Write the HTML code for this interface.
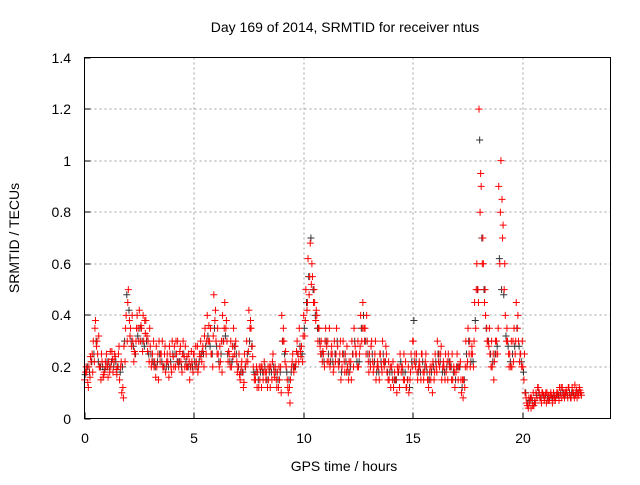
<!DOCTYPE html>
<html><head><meta charset="utf-8"><style>
body{margin:0;background:#fff;}
svg text{font-family:"Liberation Sans",sans-serif;font-size:14px;fill:#000;}
</style></head><body>
<svg id="chart" width="640" height="480" viewBox="0 0 640 480" xmlns="http://www.w3.org/2000/svg">
<text x="345" y="32" text-anchor="middle">Day 169 of 2014, SRMTID for receiver ntus</text>
<text x="344" y="471" text-anchor="middle">GPS time / hours</text>
<text x="0" y="0" text-anchor="middle" transform="translate(19,238) rotate(-90)">SRMTID / TECUs</text>
<g id="grid"></g>
<g id="ticks"></g>
<g id="marks"></g>
<rect x="84.5" y="57.5" width="526" height="361" fill="none" stroke="#000" stroke-width="1"/>
</svg>
<script>
const xTicks=[0,5,10,15,20];
const yTicks=[0,0.2,0.4,0.6,0.8,1,1.2,1.4];
const yTickLabels=["0","0.2","0.4","0.6","0.8","1","1.2","1.4"];
const startHour=0, stepHour=0.1;
const redA=[0.15,0.18,0.2,0.22,0.3,0.38,0.25,0.2,0.22,0.18,
0.25,0.22,0.2,0.18,0.24,0.2,0.15,0.1,0.28,0.4,
0.5,0.35,0.3,0.25,0.4,0.42,0.35,0.3,0.38,0.3,
0.28,0.25,0.22,0.2,0.3,0.25,0.2,0.18,0.22,0.25,
0.3,0.28,0.25,0.2,0.22,0.3,0.28,0.2,0.15,0.22,
0.25,0.22,0.2,0.3,0.28,0.35,0.4,0.3,0.25,0.48,
0.3,0.25,0.22,0.4,0.45,0.3,0.25,0.2,0.35,0.3,
0.2,0.15,0.18,0.25,0.3,0.42,0.35,0.2,0.15,0.18,
0.15,0.2,0.22,0.18,0.15,0.2,0.25,0.2,0.18,0.15,
0.4,0.3,0.2,0.1,0.15,0.25,0.2,0.3,0.35,0.28,
0.4,0.5,0.62,0.68,0.55,0.45,0.4,0.35,0.3,0.25,
0.35,0.3,0.2,0.25,0.3,0.35,0.2,0.15,0.3,0.25,
0.2,0.18,0.3,0.35,0.25,0.2,0.4,0.45,0.35,0.3,
0.25,0.3,0.2,0.15,0.2,0.25,0.3,0.22,0.18,0.15,
0.2,0.12,0.15,0.18,0.25,0.2,0.15,0.12,0.1,0.25,
0.3,0.2,0.15,0.2,0.25,0.18,0.2,0.12,0.15,0.22,
0.25,0.3,0.2,0.15,0.2,0.18,0.25,0.2,0.15,0.12,
0.25,0.2,0.1,0.15,0.3,0.35,0.2,0.25,0.45,0.6,
1.2,0.9,0.6,0.4,0.3,0.25,0.2,0.22,0.3,0.9,
1.0,0.75,0.4,0.3,0.25,0.2,0.35,0.45,0.3,0.25,
0.2,0.1,0.05,0.06,0.08,0.05,0.1,0.12,0.08,0.1,
0.08,0.1,0.07,0.09,0.1,0.08,0.1,0.09,0.12,0.08,
0.1,0.12,0.08,0.1,0.09,0.1,0.11];
const redB=[0.18,0.14,0.16,0.25,0.22,0.28,0.32,0.15,0.16,0.22,
0.2,0.18,0.26,0.22,0.19,0.25,0.2,0.12,0.22,0.3,
0.38,0.28,0.22,0.3,0.35,0.3,0.26,0.38,0.32,0.22,
0.2,0.3,0.16,0.25,0.22,0.3,0.25,0.22,0.16,0.2,
0.24,0.2,0.3,0.26,0.18,0.24,0.2,0.25,0.2,0.18,
0.2,0.28,0.25,0.22,0.2,0.25,0.3,0.35,0.2,0.38,
0.25,0.2,0.3,0.3,0.35,0.22,0.2,0.28,0.25,0.22,
0.25,0.2,0.12,0.2,0.22,0.35,0.28,0.15,0.2,0.12,
0.2,0.15,0.18,0.12,0.2,0.15,0.18,0.15,0.12,0.2,
0.3,0.22,0.15,0.12,0.2,0.18,0.22,0.25,0.26,0.22,
0.32,0.42,0.48,0.52,0.45,0.38,0.3,0.28,0.22,0.2,
0.28,0.22,0.25,0.18,0.22,0.28,0.25,0.2,0.22,0.18,
0.15,0.22,0.25,0.28,0.2,0.25,0.3,0.35,0.25,0.22,
0.2,0.22,0.25,0.2,0.15,0.2,0.22,0.28,0.15,0.2,
0.15,0.18,0.1,0.2,0.18,0.15,0.22,0.15,0.15,0.2,
0.22,0.25,0.2,0.15,0.18,0.22,0.15,0.18,0.2,0.15,
0.2,0.22,0.25,0.2,0.15,0.22,0.2,0.15,0.2,0.18,
0.15,0.22,0.15,0.12,0.2,0.25,0.25,0.2,0.35,0.5,
0.8,0.6,0.45,0.35,0.28,0.2,0.25,0.3,0.25,0.6,
0.85,0.5,0.3,0.25,0.2,0.3,0.25,0.35,0.22,0.2,
0.15,0.08,0.04,0.08,0.05,0.07,0.08,0.1,0.06,0.09,
0.1,0.07,0.09,0.06,0.08,0.1,0.07,0.12,0.09,0.1,
0.08,0.09,0.12,0.08,0.11,0.09,0.1];
const redC=[0.2,0.12,0.24,0.18,0.35,0.3,0.2,0.25,0.17,0.2,
0.16,0.26,0.23,0.25,0.17,0.28,0.22,0.08,0.35,0.45,
0.32,0.4,0.26,0.35,0.3,0.36,0.4,0.33,0.26,0.35,
0.22,0.2,0.28,0.15,0.25,0.2,0.28,0.25,0.28,0.18,
0.2,0.3,0.22,0.28,0.25,0.2,0.24,0.22,0.26,0.25,
0.28,0.18,0.24,0.26,0.32,0.3,0.36,0.25,0.32,0.42,
0.35,0.28,0.18,0.35,0.38,0.26,0.3,0.24,0.28,0.18,
0.17,0.22,0.14,0.22,0.26,0.38,0.24,0.17,0.12,0.2,
0.12,0.18,0.15,0.2,0.12,0.22,0.16,0.12,0.2,0.1,
0.35,0.26,0.12,0.06,0.22,0.2,0.26,0.22,0.24,0.32,
0.38,0.45,0.55,0.6,0.5,0.42,0.35,0.25,0.26,0.3,
0.22,0.35,0.28,0.2,0.25,0.22,0.3,0.25,0.18,0.28,
0.22,0.15,0.2,0.25,0.3,0.28,0.35,0.3,0.4,0.18,
0.28,0.18,0.3,0.22,0.25,0.18,0.2,0.25,0.22,0.12,
0.22,0.15,0.2,0.12,0.2,0.25,0.12,0.2,0.18,0.3,
0.25,0.18,0.22,0.25,0.15,0.25,0.15,0.2,0.1,0.18,
0.18,0.25,0.28,0.22,0.25,0.15,0.22,0.25,0.18,0.2,
0.2,0.15,0.08,0.2,0.22,0.3,0.28,0.3,0.5,0.45,
0.95,0.7,0.5,0.3,0.35,0.3,0.15,0.25,0.35,0.8,
0.7,0.6,0.35,0.2,0.3,0.22,0.3,0.4,0.25,0.3,
0.25,0.06,0.08,0.04,0.1,0.06,0.12,0.08,0.1,0.07,
0.06,0.09,0.1,0.08,0.07,0.09,0.12,0.08,0.1,0.11,
0.12,0.08,0.1,0.13,0.08,0.12,0.09];
const black=[0.17,0.2,0.18,0.22,0.25,0.3,0.22,0.2,0.2,0.19,
0.22,0.2,0.22,0.2,0.22,0.2,0.18,0.2,0.3,0.48,
0.42,0.3,0.28,0.25,0.32,0.35,0.3,0.28,0.3,0.25,
0.25,0.22,0.2,0.22,0.25,0.22,0.2,0.2,0.2,0.22,
0.25,0.25,0.22,0.22,0.2,0.25,0.22,0.2,0.2,0.2,
0.22,0.2,0.22,0.25,0.25,0.28,0.32,0.28,0.25,0.35,
0.28,0.22,0.25,0.3,0.32,0.25,0.22,0.22,0.28,0.25,
0.2,0.18,0.18,0.2,0.25,0.3,0.28,0.18,0.18,0.15,
0.18,0.18,0.2,0.15,0.18,0.18,0.2,0.18,0.15,0.18,
0.3,0.25,0.18,0.15,0.18,0.2,0.2,0.25,0.28,0.25,
0.35,0.45,0.55,0.7,0.5,0.4,0.35,0.3,0.25,0.22,
0.3,0.25,0.22,0.22,0.25,0.3,0.22,0.18,0.25,0.22,
0.18,0.2,0.25,0.3,0.22,0.22,0.35,0.4,0.3,0.25,
0.22,0.25,0.22,0.18,0.18,0.22,0.25,0.22,0.18,0.18,
0.18,0.15,0.15,0.18,0.22,0.18,0.18,0.15,0.12,0.22,
0.38,0.22,0.18,0.18,0.22,0.2,0.18,0.15,0.18,0.2,
0.22,0.25,0.22,0.18,0.18,0.2,0.22,0.2,0.18,0.15,
0.2,0.2,0.12,0.15,0.25,0.3,0.22,0.22,0.38,0.5,
1.08,0.7,0.5,0.35,0.3,0.25,0.22,0.25,0.28,0.62,
0.5,0.48,0.32,0.28,0.22,0.25,0.28,0.35,0.28,0.22,
0.18,0.1,0.06,0.07,0.07,0.06,0.09,0.1,0.08,0.09,
0.09,0.08,0.08,0.08,0.09,0.09,0.09,0.1,0.1,0.09,
0.09,0.1,0.1,0.09,0.1,0.1,0.1];
const X0=84.5,X1=610.5,Y0=418.5,Y1=57.5,XMAX=24,YMAX=1.4;
function xs(h){return X0+(X1-X0)*h/XMAX;}
function ys(v){return Y0-(Y0-Y1)*v/YMAX;}
const NS="http://www.w3.org/2000/svg";
const grid=document.getElementById('grid'),ticks=document.getElementById('ticks'),marks=document.getElementById('marks');
function mk(tag,attrs,parent){const e=document.createElementNS(NS,tag);for(const k in attrs)e.setAttribute(k,attrs[k]);parent.appendChild(e);return e;}
xTicks.forEach(t=>{const x=Math.round(xs(t));
 if(t>0){const g=mk('line',{x1:x,x2:x,y1:Y1,y2:Y0,stroke:'#a0a0a0','stroke-dasharray':'2,3'},grid);
 
 }
 const tk=mk('line',{x1:x,x2:x,y1:Y0,y2:Y0-6,stroke:'#000'},ticks);
 
 
 const lb=mk('text',{x:x,y:443,'text-anchor':'middle'},ticks);lb.textContent=t;
 
 });
yTicks.forEach((t,i)=>{const y=Math.round(ys(t));
 if(t>0&&t<YMAX){const g=mk('line',{x1:X0,x2:X1,y1:y,y2:y,stroke:'#a0a0a0','stroke-dasharray':'2,3'},grid);
 
 }
 const tk=mk('line',{x1:X0,x2:X0+6,y1:y,y2:y,stroke:'#000'},ticks);
 
 
 const lb=mk('text',{x:71,y:y+5,'text-anchor':'end'},ticks);lb.textContent=yTickLabels[i];
 
 });
function plus(h,v,color,name){const x=xs(h),y=ys(v);
 const p=mk('path',{d:`M${x-3.5},${y}H${x+3.5}M${x},${y-3.5}V${y+3.5}`,stroke:color,'stroke-width':1,fill:'none'},marks);
 
 }
black.forEach((v,i)=>plus(startHour+stepHour*i+0.03,v,'#333','black-point'));
redB.forEach((v,i)=>plus(startHour+stepHour*i+0.05,v,'#f00','red-point'));
redC.forEach((v,i)=>plus(startHour+stepHour*i+0.075,v,'#f00','red-point'));
redA.forEach((v,i)=>plus(startHour+stepHour*i,v,'#f00','red-point'));
</script>
</body></html>
